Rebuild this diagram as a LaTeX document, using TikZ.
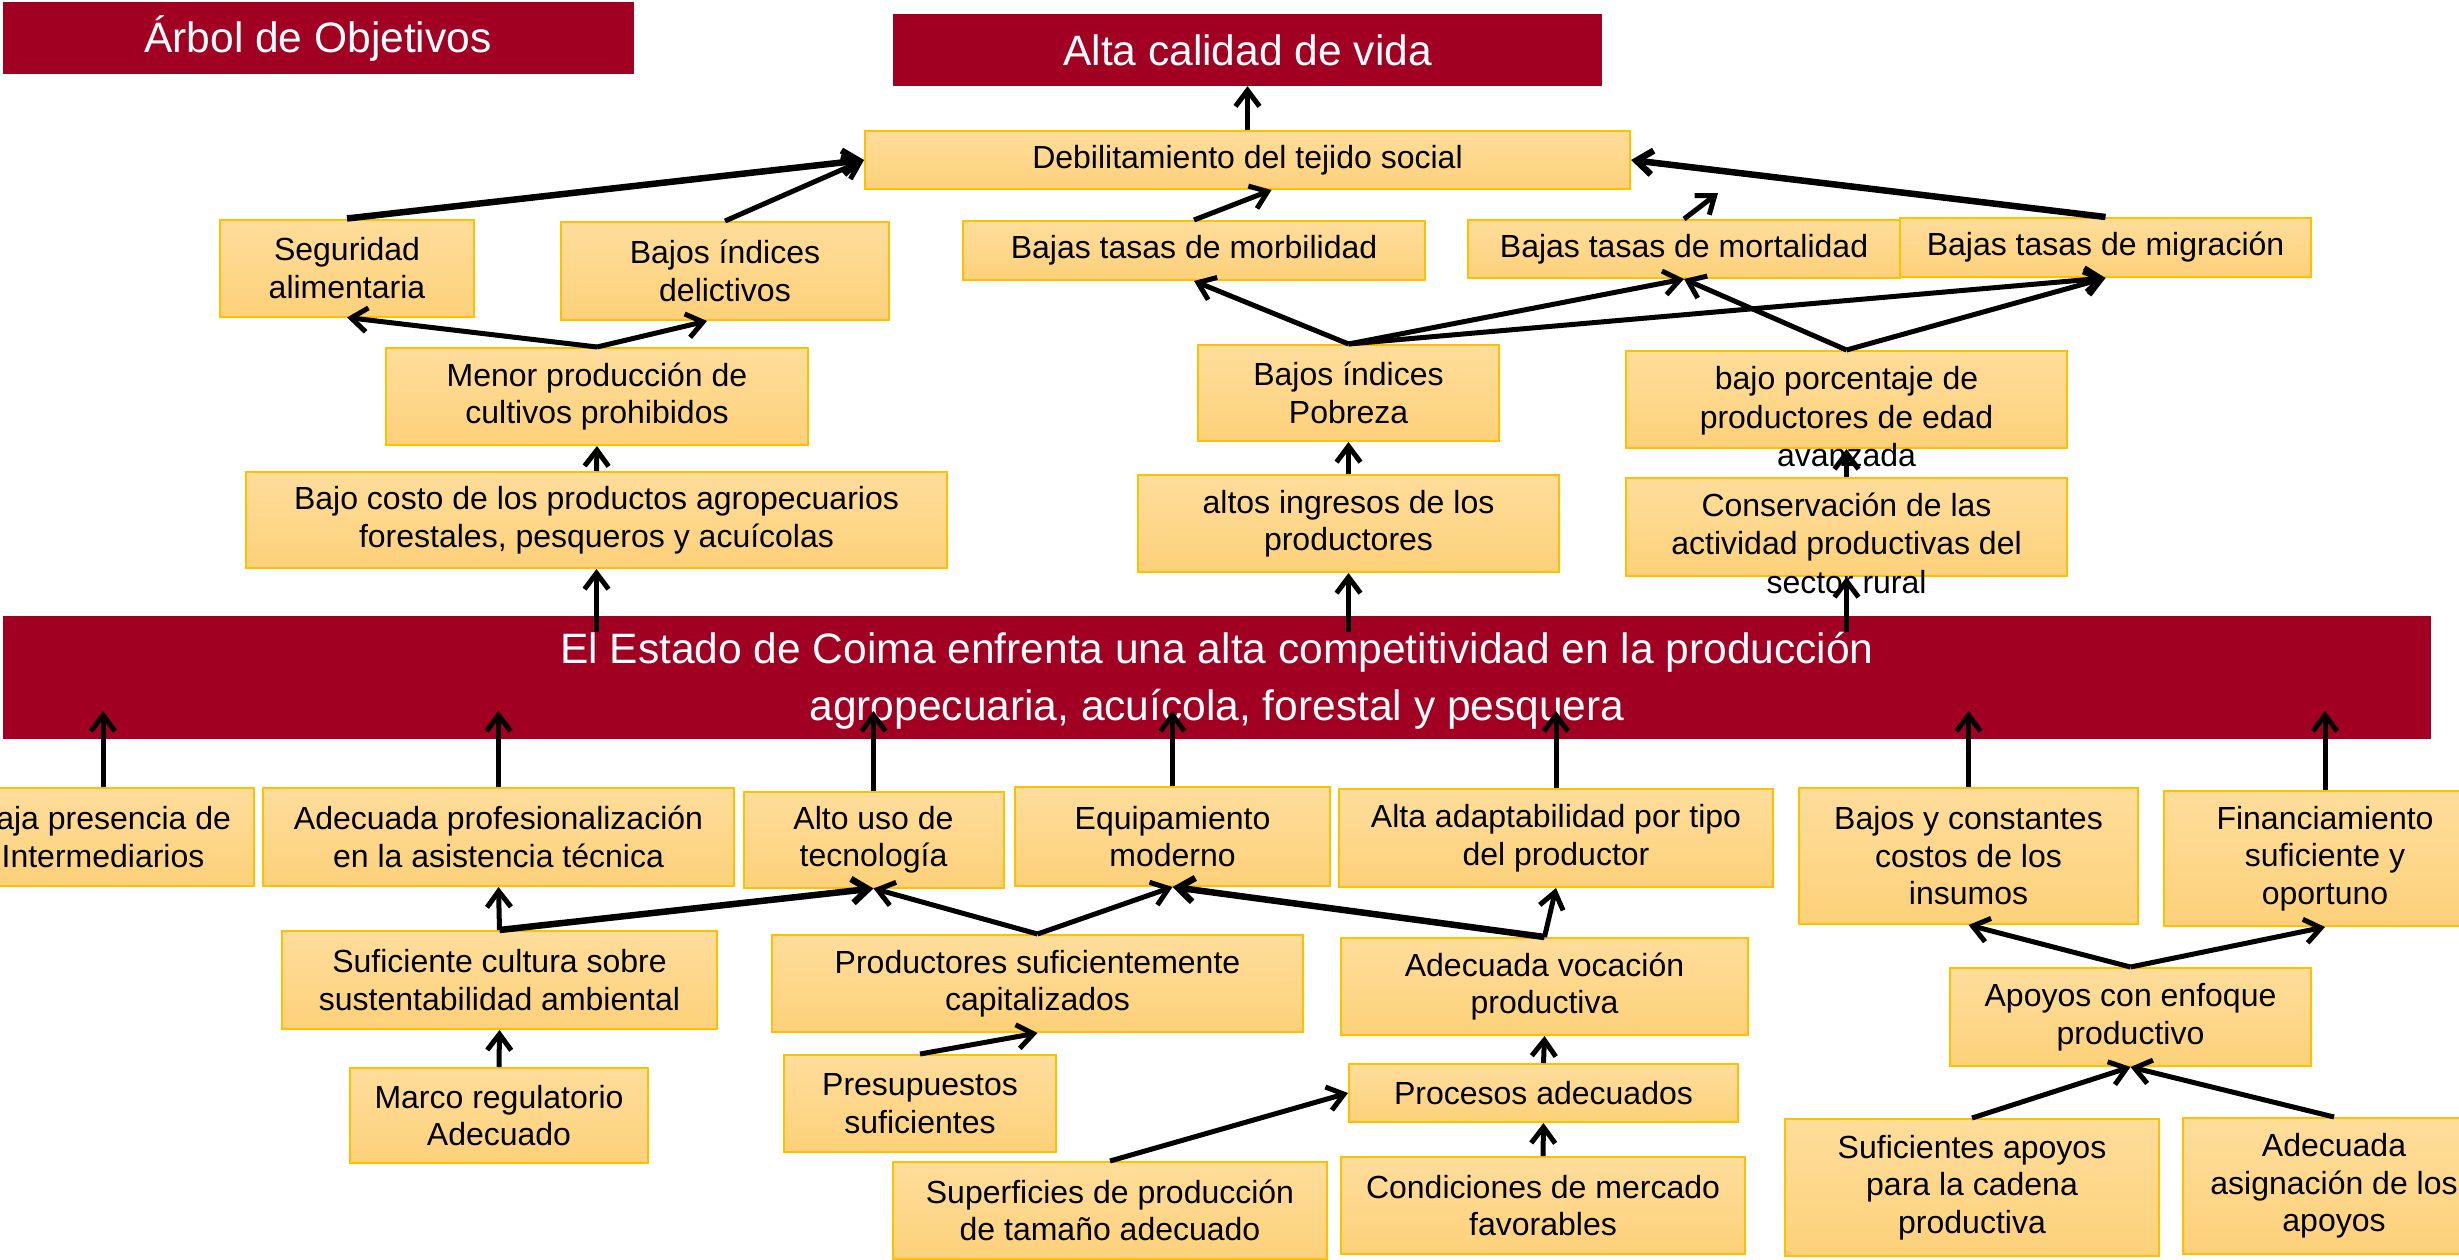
\documentclass[tikz,border=0pt]{standalone}
\usepackage{fontspec}
\setmainfont{Liberation Sans}
\usetikzlibrary{arrows.meta}
\definecolor{redbox}{RGB}{162,0,34}
\definecolor{ytop}{RGB}{254,221,155}
\definecolor{ybot}{RGB}{253,209,122}
\definecolor{yborder}{RGB}{255,192,0}
\begin{document}
\begin{tikzpicture}[x=1pt,y=-1pt,
 ybox/.style={draw=yborder, line width=2pt, top color=ytop, bottom color=ybot, inner sep=0pt, align=center, font=\fontsize{32}{37.5}\selectfont},
 rbox/.style={fill=redbox, inner sep=0pt, align=center, text=white, font=\fontsize{42.5}{57}\selectfont},
 otext/.style={inner sep=0pt, align=center, font=\fontsize{32}{38.5}\selectfont},
 arr/.style={line width=5pt, -{Straight Barb[length=16pt,width=24pt]}},
 thick arr/.style={arr, line width=6.5pt},
]
\useasboundingbox (0,0) rectangle (2459,1260);
% red boxes
\node[rbox, minimum width=631pt, minimum height=72pt] (title) at (318,38) {Árbol de Objetivos};
\node[rbox, minimum width=709pt, minimum height=72pt] (alta) at (1247.5,50) {Alta calidad de vida};
\node[rbox, minimum width=2428pt, minimum height=123pt] (main) at (1217,677.5) {};
\node[rbox, fill=none] (maintext) at (1217,681) {El Estado de Coima enfrenta una alta competitividad en la producción\\agropecuaria, acuícola, forestal y pesquera};
% upper yellow boxes
\node[ybox, minimum width=765pt, minimum height=58pt] (deb) at (1247.5,160) {Debilitamiento del tejido social};
\node[ybox, minimum width=254pt, minimum height=97pt] (seg) at (347,268) {Seguridad\\alimentaria};
\node[ybox, minimum width=328pt, minimum height=98pt] (del) at (725,271) {Bajos índices\\delictivos};
\node[ybox, minimum width=462pt, minimum height=59pt] (morb) at (1194,250.5) {Bajas tasas de morbilidad};
\node[ybox, minimum width=432pt, minimum height=58pt] (mort) at (1684,249) {Bajas tasas de mortalidad};
\node[ybox, minimum width=411pt, minimum height=59pt] (mig) at (2105.5,247.5) {Bajas tasas de migración};
\node[ybox, minimum width=422pt, minimum height=97pt] (men) at (597,396.5) {Menor producción de\\cultivos prohibidos};
\node[ybox, minimum width=301pt, minimum height=96pt] (pob) at (1348.5,393) {Bajos índices\\Pobreza};
\node[ybox, minimum width=441pt, minimum height=97pt] (bajop) at (1846.5,399.5) {};
\node[otext] (bajopt) at (1846.5,417) {bajo porcentaje de\\productores de edad\\avanzada};
\node[ybox, minimum width=701pt, minimum height=96pt] (cost) at (596.5,520) {Bajo costo de los productos agropecuarios\\forestales, pesqueros y acuícolas};
\node[ybox, minimum width=421pt, minimum height=97pt] (ing) at (1348.5,523.5) {altos ingresos de los\\productores};
\node[ybox, minimum width=441pt, minimum height=98pt] (cons) at (1846.5,527) {};
\node[otext] (const) at (1846.5,543) {Conservación de las\\actividad productivas del\\sector rural};
% lower yellow boxes
\node[ybox, minimum width=302pt, minimum height=98pt] (bp) at (103,837) {Baja presencia de\\Intermediarios};
\node[ybox, minimum width=471pt, minimum height=98pt] (prof) at (498.5,837) {Adecuada profesionalización\\en la asistencia técnica};
\node[ybox, minimum width=260pt, minimum height=96pt] (tec) at (873.5,839.5) {Alto uso de\\tecnología};
\node[ybox, minimum width=315pt, minimum height=99pt] (equip) at (1172.5,836.5) {Equipamiento\\moderno};
\node[ybox, minimum width=434pt, minimum height=98pt] (adap) at (1556,838) {Alta adaptabilidad por tipo\\del productor};
\node[ybox, minimum width=339pt, minimum height=136pt] (insum) at (1968.5,856) {Bajos y constantes\\costos de los\\insumos};
\node[ybox, minimum width=322pt, minimum height=135pt] (fin) at (2325,858.5) {Financiamiento\\suficiente y\\oportuno};
\node[ybox, minimum width=435pt, minimum height=98pt] (cult) at (499.5,980) {Suficiente cultura sobre\\sustentabilidad ambiental};
\node[ybox, minimum width=531pt, minimum height=97pt] (prodcap) at (1037.5,983.5) {Productores suficientemente\\capitalizados};
\node[ybox, minimum width=407pt, minimum height=97pt] (voc) at (1544.5,986.5) {Adecuada vocación\\productiva};
\node[ybox, minimum width=361pt, minimum height=98pt] (apoyos) at (2130.5,1017) {Apoyos con enfoque\\productivo};
\node[ybox, minimum width=298pt, minimum height=95pt] (marco) at (499,1115.5) {Marco regulatorio\\Adecuado};
\node[ybox, minimum width=272pt, minimum height=97pt] (presu) at (920,1103.5) {Presupuestos\\suficientes};
\node[ybox, minimum width=389pt, minimum height=58pt] (proc) at (1543.5,1093) {Procesos adecuados};
\node[ybox, minimum width=434pt, minimum height=97pt] (sup) at (1110,1210.5) {Superficies de producción\\de tamaño adecuado};
\node[ybox, minimum width=404pt, minimum height=97pt] (cond) at (1543,1205.5) {Condiciones de mercado\\favorables};
\node[ybox, minimum width=374pt, minimum height=137pt] (sufap) at (1972,1187.5) {Suficientes apoyos\\para la cadena\\productiva};
\node[ybox, minimum width=302pt, minimum height=136pt] (asig) at (2334,1186) {Adecuada\\asignación de los\\apoyos};
% free ends
\coordinate (dang) at (1718,193);
\coordinate (m1) at (596.5,632);
\coordinate (m2) at (1348.5,632);
\coordinate (m3) at (1846.5,632);
\coordinate (t1) at (103,711);
\coordinate (t2) at (498.5,711);
\coordinate (t3) at (873.5,711);
\coordinate (t4) at (1172.5,711);
\coordinate (t5) at (1556,711);
\coordinate (t6) at (1968.5,711);
\coordinate (t7) at (2325,711);
% upper arrows
\draw[arr] (deb.north) -- (alta.south);
\draw[thick arr] (seg.north) -- (deb.west);
\draw[arr] (del.north) -- (deb.west);
\draw[arr] (morb.north) -- ([xshift=24pt]deb.south);
\draw[arr] (mort.north) -- (dang);
\draw[thick arr] (mig.north) -- (deb.east);
\draw[arr] (men.north) -- (seg.south);
\draw[arr] (men.north) -- ([xshift=-18pt]del.south);
\draw[arr] (pob.north) -- (morb.south);
\draw[arr] (pob.north) -- (mort.south);
\draw[arr] (pob.north) -- (mig.south);
\draw[arr] (bajop.north) -- (mort.south);
\draw[arr] (bajop.north) -- (mig.south);
\draw[arr] (cost.north) -- (men.south);
\draw[arr] (ing.north) -- (pob.south);
\draw[arr] (cons.north) -- (bajop.south);
\draw[arr] (m1) -- (cost.south);
\draw[arr] (m2) -- (ing.south);
\draw[arr] (m3) -- (cons.south);
% lower arrows
\draw[arr] (bp.north) -- (t1);
\draw[arr] (prof.north) -- (t2);
\draw[arr] (tec.north) -- (t3);
\draw[arr] (equip.north) -- (t4);
\draw[arr] (adap.north) -- (t5);
\draw[arr] (insum.north) -- (t6);
\draw[arr] (fin.north) -- (t7);
\draw[arr] (cult.north) -- (prof.south);
\draw[thick arr] (cult.north) -- (tec.south);
\draw[arr] (prodcap.north) -- (tec.south);
\draw[arr] (prodcap.north) -- (equip.south);
\draw[thick arr] (voc.north) -- (equip.south);
\draw[arr] (voc.north) -- (adap.south);
\draw[arr] (marco.north) -- (cult.south);
\draw[arr] (presu.north) -- (prodcap.south);
\draw[arr] (proc.north) -- (voc.south);
\draw[arr] (sup.north) -- (proc.west);
\draw[arr] (cond.north) -- (proc.south);
\draw[arr] (apoyos.north) -- (insum.south);
\draw[arr] (apoyos.north) -- (fin.south);
\draw[arr] (sufap.north) -- (apoyos.south);
\draw[arr] (asig.north) -- (apoyos.south);
\end{tikzpicture}
\end{document}
